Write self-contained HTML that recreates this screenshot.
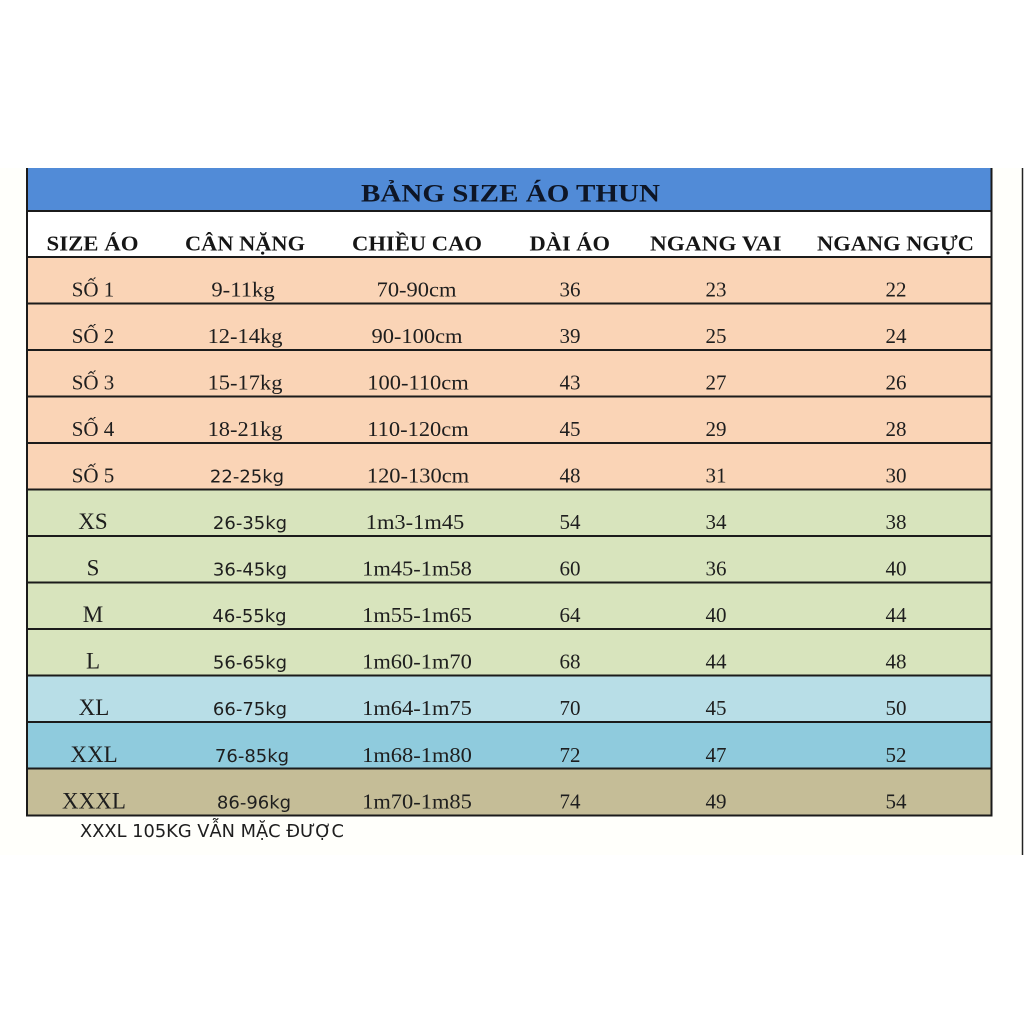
<!DOCTYPE html>
<html><head><meta charset="utf-8"><style>
html,body{margin:0;padding:0;background:#fff;}
svg{display:block;}
.s{font-family:"Liberation Serif","Noto Serif CJK SC",serif;fill:#1e1e1e;font-size:21px;}
.sz{font-family:"Liberation Serif","Noto Serif CJK SC",serif;fill:#1e1e1e;font-size:23px;}
.h{font-family:"Liberation Serif","Noto Serif CJK SC",serif;fill:#161616;font-size:21px;font-weight:bold;}
.t{font-family:"Liberation Serif","Noto Serif CJK SC",serif;fill:#0e1626;font-size:25px;font-weight:bold;}
.k{font-family:"DejaVu Sans","Liberation Sans",sans-serif;fill:#1e1e1e;font-size:18px;}
</style></head><body>
<svg width="1024" height="1024" viewBox="0 0 1024 1024" xmlns="http://www.w3.org/2000/svg">
<rect x="0" y="0" width="1024" height="1024" fill="#ffffff"/>
<rect x="0" y="168" width="1022" height="687" fill="#fffffb"/>
<line x1="1022.5" y1="168" x2="1022.5" y2="855" stroke="#222" stroke-width="1.5"/>

<rect x="27" y="168" width="965" height="43" fill="#518bd7"/>
<rect x="27" y="211" width="965" height="46" fill="#ffffff"/>
<rect x="27" y="257" width="965" height="232.5" fill="#fad4b6"/>
<rect x="27" y="489.5" width="965" height="186" fill="#d8e4bd"/>
<rect x="27" y="675.5" width="965" height="46.5" fill="#b8dee7"/>
<rect x="27" y="722" width="965" height="46.5" fill="#8fcbdd"/>
<rect x="27" y="768.5" width="965" height="46.5" fill="#c5bd97"/>

<g stroke="#1b1b1b" stroke-width="2">
<line x1="27" y1="211" x2="992" y2="211"/>
<line x1="27" y1="257" x2="992" y2="257"/>
<line x1="27" y1="303.5" x2="992" y2="303.5"/>
<line x1="27" y1="350" x2="992" y2="350"/>
<line x1="27" y1="396.5" x2="992" y2="396.5"/>
<line x1="27" y1="443" x2="992" y2="443"/>
<line x1="27" y1="489.5" x2="992" y2="489.5"/>
<line x1="27" y1="536" x2="992" y2="536"/>
<line x1="27" y1="582.5" x2="992" y2="582.5"/>
<line x1="27" y1="629" x2="992" y2="629"/>
<line x1="27" y1="675.5" x2="992" y2="675.5"/>
<line x1="27" y1="722" x2="992" y2="722"/>
<line x1="27" y1="768.5" x2="992" y2="768.5"/>
<line x1="27" y1="815.5" x2="992" y2="815.5"/>
<line x1="27" y1="168" x2="27" y2="816.5"/>
<line x1="991.5" y1="168" x2="991.5" y2="816.5"/>
</g>

<text class="t" x="361" y="201.5" textLength="299" lengthAdjust="spacingAndGlyphs">BẢNG SIZE ÁO THUN</text>

<text class="h" x="46.5" y="250.5" textLength="92" lengthAdjust="spacingAndGlyphs">SIZE ÁO</text>
<text class="h" x="185" y="250.5" textLength="120" lengthAdjust="spacingAndGlyphs">CÂN NẶNG</text>
<text class="h" x="352" y="250.5" textLength="130" lengthAdjust="spacingAndGlyphs">CHIỀU CAO</text>
<text class="h" x="529.5" y="250.5" textLength="80.5" lengthAdjust="spacingAndGlyphs">DÀI ÁO</text>
<text class="h" x="650" y="250.5" textLength="131.5" lengthAdjust="spacingAndGlyphs">NGANG VAI</text>
<text class="h" x="817" y="250.5" textLength="157" lengthAdjust="spacingAndGlyphs">NGANG NGỰC</text>

<g text-anchor="middle">
<text class="s" x="93" y="296.5">SỐ 1</text>
<text class="s" x="93" y="343">SỐ 2</text>
<text class="s" x="93" y="389.5">SỐ 3</text>
<text class="s" x="93" y="436">SỐ 4</text>
<text class="s" x="93" y="482.5">SỐ 5</text>
<text class="sz" x="93" y="529">XS</text>
<text class="sz" x="93" y="575.5">S</text>
<text class="sz" x="93" y="622">M</text>
<text class="sz" x="93" y="668.5">L</text>
<text class="sz" x="94" y="715">XL</text>
<text class="sz" x="94" y="762">XXL</text>
<text class="sz" x="94" y="808.5">XXXL</text>
</g>

<g text-anchor="middle">
<text class="s" transform="translate(243,296.5) scale(1.08,1)" x="0" y="0">9-11kg</text>
<text class="s" transform="translate(245,343) scale(1.07,1)" x="0" y="0">12-14kg</text>
<text class="s" transform="translate(245,389.5) scale(1.07,1)" x="0" y="0">15-17kg</text>
<text class="s" transform="translate(245,436) scale(1.07,1)" x="0" y="0">18-21kg</text>
<text class="k" x="247" y="482.5">22-25kg</text>
<text class="k" x="250" y="529">26-35kg</text>
<text class="k" x="250" y="575.5">36-45kg</text>
<text class="k" x="249.5" y="622">46-55kg</text>
<text class="k" x="250" y="668.5">56-65kg</text>
<text class="k" x="250" y="715">66-75kg</text>
<text class="k" x="252" y="762">76-85kg</text>
<text class="k" x="254" y="808.5">86-96kg</text>
</g>

<g text-anchor="middle">
<text class="s" transform="translate(416.5,296.5) scale(1.07,1)">70-90cm</text>
<text class="s" transform="translate(417,343) scale(1.07,1)">90-100cm</text>
<text class="s" transform="translate(418,389.5) scale(1.07,1)">100-110cm</text>
<text class="s" transform="translate(418,436) scale(1.07,1)">110-120cm</text>
<text class="s" transform="translate(418,482.5) scale(1.07,1)">120-130cm</text>
<text class="s" transform="translate(415,529) scale(1.07,1)">1m3-1m45</text>
<text class="s" transform="translate(417,575.5) scale(1.07,1)">1m45-1m58</text>
<text class="s" transform="translate(417,622) scale(1.07,1)">1m55-1m65</text>
<text class="s" transform="translate(417,668.5) scale(1.07,1)">1m60-1m70</text>
<text class="s" transform="translate(417,715) scale(1.07,1)">1m64-1m75</text>
<text class="s" transform="translate(417,762) scale(1.07,1)">1m68-1m80</text>
<text class="s" transform="translate(417,808.5) scale(1.07,1)">1m70-1m85</text>
</g>

<g text-anchor="middle">
<text class="s" x="570" y="296.5">36</text>
<text class="s" x="570" y="343">39</text>
<text class="s" x="570" y="389.5">43</text>
<text class="s" x="570" y="436">45</text>
<text class="s" x="570" y="482.5">48</text>
<text class="s" x="570" y="529">54</text>
<text class="s" x="570" y="575.5">60</text>
<text class="s" x="570" y="622">64</text>
<text class="s" x="570" y="668.5">68</text>
<text class="s" x="570" y="715">70</text>
<text class="s" x="570" y="762">72</text>
<text class="s" x="570" y="808.5">74</text>
</g>

<g text-anchor="middle">
<text class="s" x="716" y="296.5">23</text>
<text class="s" x="716" y="343">25</text>
<text class="s" x="716" y="389.5">27</text>
<text class="s" x="716" y="436">29</text>
<text class="s" x="716" y="482.5">31</text>
<text class="s" x="716" y="529">34</text>
<text class="s" x="716" y="575.5">36</text>
<text class="s" x="716" y="622">40</text>
<text class="s" x="716" y="668.5">44</text>
<text class="s" x="716" y="715">45</text>
<text class="s" x="716" y="762">47</text>
<text class="s" x="716" y="808.5">49</text>
</g>

<g text-anchor="middle">
<text class="s" x="896" y="296.5">22</text>
<text class="s" x="896" y="343">24</text>
<text class="s" x="896" y="389.5">26</text>
<text class="s" x="896" y="436">28</text>
<text class="s" x="896" y="482.5">30</text>
<text class="s" x="896" y="529">38</text>
<text class="s" x="896" y="575.5">40</text>
<text class="s" x="896" y="622">44</text>
<text class="s" x="896" y="668.5">48</text>
<text class="s" x="896" y="715">50</text>
<text class="s" x="896" y="762">52</text>
<text class="s" x="896" y="808.5">54</text>
</g>

<text class="k" x="80" y="837" textLength="264" lengthAdjust="spacingAndGlyphs">XXXL 105KG VẪN MẶC ĐƯỢC</text>
</svg>
</body></html>
